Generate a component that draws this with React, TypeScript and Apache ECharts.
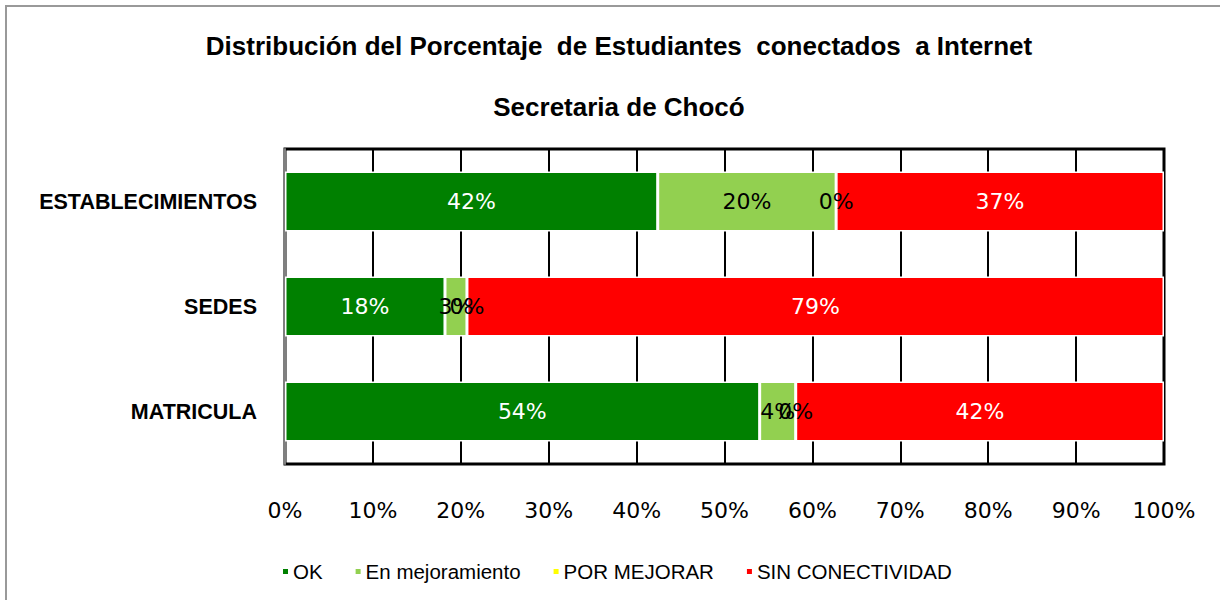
import React, { useEffect, useRef } from "react";
import * as echarts from "echarts";

const categories = ["ESTABLECIMIENTOS", "SEDES", "MATRICULA"];
const seriesNames = ["OK", "En mejoramiento", "POR MEJORAR", "SIN CONECTIVIDAD"];
const okValues = [42.4, 18.2, 54.0];
const mejoramientoValues = [20.3, 2.5, 4.1];
const porMejorarValues = [0, 0, 0];
const sinConectividadValues = [37.3, 79.3, 41.9];
const xTicks = [0, 10, 20, 30, 40, 50, 60, 70, 80, 90, 100];

const colors = ["#008000", "#92D050", "#FFFF00", "#FF0000"];
const labelColors = ["#ffffff", "#000000", "#000000", "#ffffff"];

export default function App() {
  const ref = useRef<HTMLDivElement>(null);
  useEffect(() => {
    if (!ref.current) return;
    const chart = echarts.init(ref.current, null, { renderer: "svg" });
    const data = [okValues, mejoramientoValues, porMejorarValues, sinConectividadValues];
    chart.setOption({
      animation: false,
      backgroundColor: "#ffffff",
      title: [
        {
          text: "Distribución del Porcentaje  de Estudiantes  conectados  a Internet",
          left: 614,
          textAlign: "center",
          top: 28,
          textStyle: { fontFamily: "Liberation Sans", fontWeight: "bold", fontSize: 26, color: "#000" },
        },
        {
          text: "Secretaria de Chocó",
          left: 614,
          textAlign: "center",
          top: 89,
          textStyle: { fontFamily: "Liberation Sans", fontWeight: "bold", fontSize: 26, color: "#000" },
        },
      ],
      graphic: [
        {
          type: "polyline",
          shape: { points: [[6, 600], [6, 6], [1220, 6]] },
          style: { stroke: "#999999", lineWidth: 2, fill: "none" },
          silent: true,
        },
      ],
      legend: {
        left: 276,
        top: 556,
        itemWidth: 7,
        itemHeight: 7,
        itemGap: 31,
        icon: "rect",
        data: seriesNames,
        textStyle: { fontFamily: "Liberation Sans", fontSize: 20.5, color: "#000", padding: [0, 0, 0, -1] },
      },
      grid: {
        left: 285,
        top: 149,
        right: 56,
        bottom: 136,
        show: true,
        borderColor: "#000",
        borderWidth: 3,
      },
      xAxis: {
        type: "value",
        min: 0,
        max: 100,
        interval: 10,
        axisLine: { show: false },
        axisTick: { show: false },
        splitLine: { show: true, lineStyle: { color: "#000", width: 2 } },
        axisLabel: {
          margin: 35,
          fontFamily: "DejaVu Sans",
          fontSize: 22,
          color: "#000",
          formatter: (v: number) => (xTicks.includes(v) ? v + "%" : ""),
        },
      },
      yAxis: {
        type: "category",
        data: categories,
        inverse: true,
        axisLine: { show: true, lineStyle: { color: "#808080", width: 2 } },
        axisTick: { show: false },
        axisLabel: {
          margin: 28,
          fontFamily: "Liberation Sans",
          fontWeight: "bold",
          fontSize: 21.5,
          color: "#000",
        },
      },
      series: seriesNames.map((name, i) => ({
        name,
        type: "bar",
        stack: "total",
        barWidth: 60,
        data: data[i],
        itemStyle: { color: colors[i], borderColor: "#ffffff", borderWidth: 1.5 },
        label: {
          show: true,
          position: "inside",
          fontFamily: "DejaVu Sans",
          fontSize: 22,
          color: labelColors[i],
          formatter: (p: any) => Math.round(p.value) + "%",
        },
      })),
    });
    return () => chart.dispose();
  }, []);
  return <div ref={ref} style={{ position: "fixed", left: 0, top: 0, width: 1220, height: 600 }} />;
}
